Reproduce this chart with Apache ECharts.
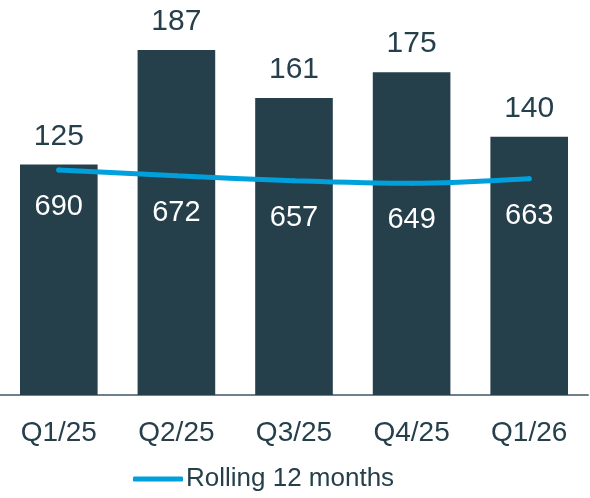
<!DOCTYPE html>
<html>
<head>
<meta charset="utf-8">
<script src="https://cdn.jsdelivr.net/npm/echarts@6/dist/echarts.min.js"></script>
<style>
  html, body { margin: 0; padding: 0; background: #fff; }
  #chart { width: 590px; height: 498px; }
</style>
</head>
<body>
<div id="chart"></div>
<script>
  const quarters = ["Q1/25", "Q2/25", "Q3/25", "Q4/25", "Q1/26"];
  const quarterly = [125, 187, 161, 175, 140];
  const rolling12 = [690, 672, 657, 649, 663];

  const dark = "#253f4b";
  const blue = "#00a0dc";
  const font = "'Liberation Sans', Arial, sans-serif";

  var myChart = echarts.init(document.getElementById("chart"));

  myChart.setOption({
    animation: false,
    grid: {
      left: 0,
      right: 2,
      top: 26,
      bottom: 103
    },
    legend: {
      data: ["Rolling 12 months"],
      left: 128,
      top: 461,
      itemWidth: 50,
      itemHeight: 5,
      icon: "roundRect",
      textStyle: {
        color: dark,
        fontSize: 26,
        fontFamily: font,
        padding: [0, 0, 0, -2]
      }
    },
    xAxis: {
      type: "category",
      data: quarters,
      axisLine: { lineStyle: { color: "#6f8089", width: 2 } },
      axisTick: { show: false },
      axisLabel: {
        color: dark,
        fontSize: 28,
        fontFamily: font,
        margin: 24
      }
    },
    yAxis: [
      { type: "value", min: 0, max: 200, show: false },
      { type: "value", min: 0, max: 1131, show: false }
    ],
    series: [
      {
        name: "Quarterly",
        type: "bar",
        data: quarterly,
        barWidth: "66%",
        itemStyle: { color: dark },
        label: {
          show: true,
          position: "top",
          distance: 13,
          color: dark,
          fontSize: 30,
          fontFamily: font
        }
      },
      {
        name: "Rolling 12 months",
        type: "line",
        yAxisIndex: 1,
        data: rolling12,
        smooth: 0.3,
        symbol: "circle",
        symbolSize: 5,
        itemStyle: { color: blue },
        lineStyle: { color: blue, width: 5, cap: "round" },
        label: {
          show: true,
          position: "bottom",
          distance: 20,
          color: "#ffffff",
          fontSize: 29,
          fontFamily: font
        }
      }
    ]
  });
</script>
</body>
</html>
